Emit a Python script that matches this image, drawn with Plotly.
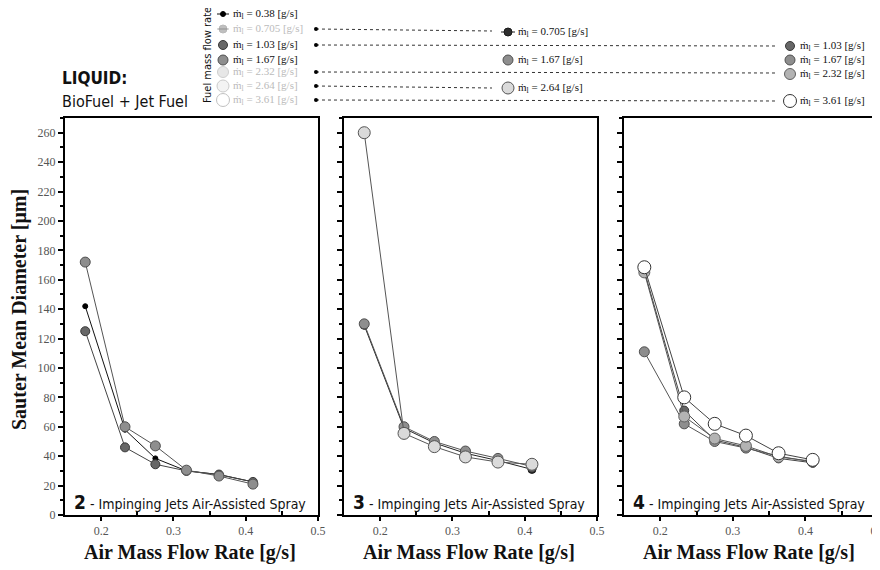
import plotly.graph_objects as go

# air mass flow rate [g/s] (same test points for every nozzle)
air_flow = [0.178, 0.233, 0.275, 0.318, 0.363, 0.41]

# Sauter mean diameter [um], nozzle 2
smd_n2_038 = [142, 58, 38.5, 30, 27.5, 22.5]
smd_n2_103 = [125, 46, 34.5, 30, 27.5, 22.5]
smd_n2_167 = [172, 60, 47, 30.5, 26.5, 21]

# nozzle 3
smd_n3_0705 = [129, 59, 49, 42, 37, 31]
smd_n3_167 = [130, 60, 50, 43.5, 38.5, 33]
smd_n3_264 = [260, 55.5, 46.5, 39.5, 36, 34.5]

# nozzle 4
smd_n4_103 = [166, 71, 51, 46, 38.5, 35.5]
smd_n4_167 = [111, 62, 50, 45.5, 40, 36]
smd_n4_232 = [165, 67, 52, 47, 39.5, 36.5]
smd_n4_361 = [168.5, 80, 62, 54, 42, 37.5]

fuel_flows = ["0.38", "0.705", "1.03", "1.67", "2.32", "2.64", "3.61"]
panel_names = ["2", "3", "4"]
x_ticks = [0.2, 0.3, 0.4, 0.5]

panels = [
    [("0.38", smd_n2_038), ("1.03", smd_n2_103), ("1.67", smd_n2_167)],
    [("0.705", smd_n3_0705), ("1.67", smd_n3_167), ("2.64", smd_n3_264)],
    [("1.03", smd_n4_103), ("1.67", smd_n4_167), ("2.32", smd_n4_232), ("3.61", smd_n4_361)],
]

# marker look per fuel flow rate
mk = {
    "0.38": dict(fill="#000000", edge="#000000", size=5, line="#111111"),
    "0.705": dict(fill="#2e2e2e", edge="#1a1a1a", size=8, line="#222222"),
    "1.03": dict(fill="#676767", edge="#383838", size=9, line="#444444"),
    "1.67": dict(fill="#8e8e8e", edge="#505050", size=10, line="#555555"),
    "2.32": dict(fill="#b3b3b3", edge="#606060", size=11, line="#555555"),
    "2.64": dict(fill="#dadada", edge="#555555", size=12, line="#555555"),
    "3.61": dict(fill="#ffffff", edge="#333333", size=13, line="#444444"),
}

serif = "Liberation Serif, Times New Roman, serif"
narrow = "Liberation Sans Narrow, DejaVu Sans Condensed, sans-serif"

# page layout (positions below are page pixels; the html body adds an 8px margin)
OFF = 8
W, H = 880 - OFF, 570 - OFF
L, R, B = 65 - OFF, 2, 55
plot_w = W - L - R
plot_h = H - B
panel_px = [(65, 318), (344, 597), (624, 878)]
panel_top = 118
panel_bottom = 515


def px(x):
    return (x - OFF - L) / plot_w


def py(y):
    return (plot_h - (y - OFF)) / plot_h


def note(x, y, text, font, xanchor="center", yanchor="middle", angle=0):
    fig.add_annotation(x=px(x), y=py(y), xref="paper", yref="paper", text=text, showarrow=False,
                       xanchor=xanchor, yanchor=yanchor, textangle=angle, font=font)


fig = go.Figure()

for i, series in enumerate(panels):
    ax = "" if i == 0 else str(i + 1)
    for name, vals in series:
        s = mk[name]
        fig.add_trace(go.Scatter(
            x=air_flow, y=vals, mode="lines+markers",
            xaxis="x" + ax, yaxis="y" + ax,
            line=dict(color=s["line"], width=1),
            marker=dict(size=s["size"], color=s["fill"], line=dict(color=s["edge"], width=1)),
            showlegend=False, hoverinfo="x+y",
        ))

# ---- legend decoration on a pixel overlay axis ----
def leg_text(name):
    return "ṁ<sub>l</sub> = %s [g/s]" % name

faded = ["0.705", "2.32", "2.64", "3.61"]
left_y = [14, 29, 45, 60, 72, 86, 100]

for name, yy in zip(fuel_flows, left_y):
    s = mk[name]
    op = 0.3 if name in faded else 1.0
    if name in ("0.38", "0.705"):
        fig.add_trace(go.Scatter(x=[217, 229], y=[yy, yy], mode="lines", xaxis="x4", yaxis="y4",
                                 line=dict(color=s["line"], width=1), opacity=op,
                                 showlegend=False, hoverinfo="skip"))
    fig.add_trace(go.Scatter(x=[223], y=[yy], mode="markers", xaxis="x4", yaxis="y4",
                             marker=dict(size=s["size"], color=s["fill"], line=dict(color=s["edge"], width=1)),
                             opacity=op, showlegend=False, hoverinfo="skip"))
    note(231, yy, leg_text(name), dict(family=serif, size=11, color="#bbbbbb" if name in faded else "#111111"),
         xanchor="left")

# dotted connectors from the master list to each panel's list
connectors = [("0.705", 29, 492, 31), ("1.03", 45, 777, 46), ("2.32", 72, 777, 73),
              ("2.64", 86, 492, 88), ("3.61", 100, 777, 101)]
for name, y0, x1, y1 in connectors:
    fig.add_trace(go.Scatter(x=[316, x1], y=[y0, y1], mode="lines", xaxis="x4", yaxis="y4",
                             line=dict(color="#333333", width=1, dash="dot"),
                             showlegend=False, hoverinfo="skip"))
    fig.add_trace(go.Scatter(x=[316], y=[y0], mode="markers", xaxis="x4", yaxis="y4",
                             marker=dict(size=4, color="#000000"), showlegend=False, hoverinfo="skip"))

sub_legends = [
    (508, [("0.705", 32), ("1.67", 60), ("2.64", 88)]),
    (790, [("1.03", 46), ("1.67", 60), ("2.32", 74), ("3.61", 101)]),
]
for xm, rows in sub_legends:
    for name, yy in rows:
        s = mk[name]
        if name == "0.705":
            fig.add_trace(go.Scatter(x=[501, 515], y=[yy, yy], mode="lines", xaxis="x4", yaxis="y4",
                                     line=dict(color=s["line"], width=1), showlegend=False, hoverinfo="skip"))
        fig.add_trace(go.Scatter(x=[xm], y=[yy], mode="markers", xaxis="x4", yaxis="y4",
                                 marker=dict(size=s["size"], color=s["fill"], line=dict(color=s["edge"], width=1)),
                                 showlegend=False, hoverinfo="skip"))
        note(xm + 8, yy, leg_text(name), dict(family=serif, size=11, color="#111111"), xanchor="left")

note(207, 55, "Fuel mass flow rate", dict(family=narrow, size=11, color="#111111"), angle=-90)
note(60, 78, "<b>LIQUID:</b>", dict(family=narrow, size=17, color="#111111"), xanchor="left")
note(60, 101, "BioFuel + Jet Fuel", dict(family=narrow, size=16, color="#111111"), xanchor="left")

# panel labels and axis titles
for i, (p0, p1) in enumerate(panel_px):
    note(p0 + 7, 502,
         "<b><span style='font-size:19px'>%s</span></b> - Impinging Jets Air-Assisted Spray" % panel_names[i],
         dict(family=narrow, size=14, color="#111111"), xanchor="left")
    note((p0 + p1) / 2 - 2, 552, "<b>Air Mass Flow Rate [g/s]</b>", dict(family=serif, size=20, color="#111111"))

note(20, 310, "<b>Sauter Mean Diameter [μm]</b>", dict(family=serif, size=20, color="#111111"), angle=-90)

# ---- axes ----
y_dom = [0, (panel_bottom - panel_top) / plot_h]
layout = dict(
    width=W, height=H, margin=dict(l=L, r=R, t=0, b=B, autoexpand=False),
    paper_bgcolor="white", plot_bgcolor="rgba(0,0,0,0)",
    showlegend=False,
)
for i, (p0, p1) in enumerate(panel_px):
    sfx = "" if i == 0 else str(i + 1)
    dom = [px(p0), min(px(p1), 1.0)]
    layout["xaxis" + sfx] = dict(
        domain=dom, range=[0.15, 0.5], tickvals=x_ticks, ticktext=[str(v) for v in x_ticks],
        anchor="y" + sfx, showgrid=False, zeroline=False, showline=True, linecolor="black", linewidth=2,
        mirror=True, ticks="outside", ticklen=4, tickwidth=1.5, tickcolor="black",
        minor=dict(tickvals=[0.25, 0.35, 0.45], ticks="inside", ticklen=4, tickwidth=1.5, tickcolor="black"),
        tickfont=dict(family=serif, size=12, color="#555555"), ticklabeloverflow="allow",
    )
    layout["yaxis" + sfx] = dict(
        domain=y_dom, range=[0, 270], dtick=20, anchor="x" + sfx, showgrid=False, zeroline=False,
        showline=True, linecolor="black", linewidth=2, mirror=True,
        ticks="outside", ticklen=5, tickwidth=1.5, tickcolor="black",
        minor=dict(dtick=10, ticks="outside", ticklen=3, tickwidth=1.5, tickcolor="black"),
        showticklabels=(i == 0), tickfont=dict(family=serif, size=12, color="#555555"),
    )
layout["xaxis4"] = dict(domain=[0, 1], range=[L + OFF, W + OFF - R], anchor="y4", visible=False, fixedrange=True)
layout["yaxis4"] = dict(domain=[0, 1], range=[plot_h + OFF, OFF], anchor="x4", visible=False, fixedrange=True)

fig.update_layout(**layout)

fig.write_html("out.html")
